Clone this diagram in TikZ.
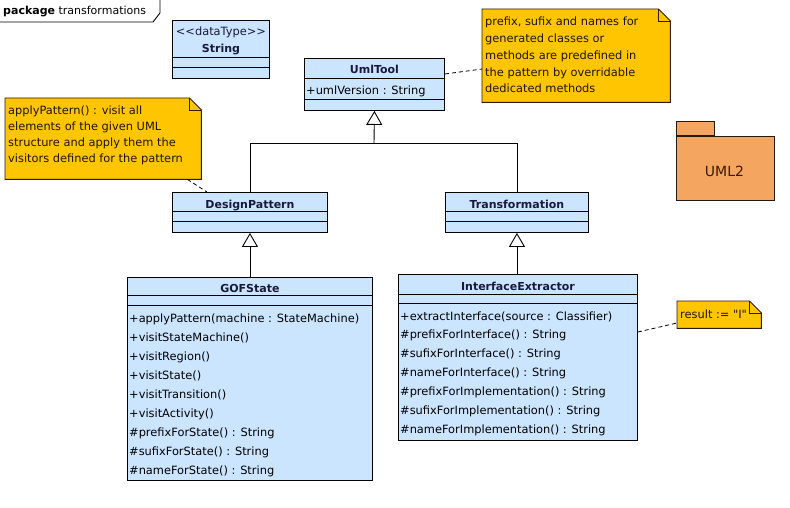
\documentclass[tikz,border=0pt]{standalone}
\usepackage{fontspec}
\setmainfont{DejaVu Sans}
% same face without the TeX character mapping, for literal quotes and angle brackets
\newfontfamily\rawfont{DejaVu Sans}
\usetikzlibrary{arrows.meta,calc}

\definecolor{classfill}{RGB}{204,229,255}
\definecolor{notefill}{RGB}{255,198,0}
\definecolor{pkgfill}{RGB}{244,166,96}
\definecolor{titlecol}{RGB}{25,25,60}
\definecolor{noteborder}{RGB}{50,25,0}
\definecolor{pkgtext}{RGB}{60,25,0}

% note outline with a folded top-right corner: #1 node name, #2 fold size
\newcommand\drawnote[2]{%
  \draw[noteshape] (#1.north west) -- ($(#1.north east)+(-#2,0)$) -- ($(#1.north east)+(0,#2)$)
    -- (#1.south east) -- (#1.south west) -- cycle;
  \draw[draw=noteborder, line width=0.6pt] ($(#1.north east)+(-#2,0)$) -- ($(#1.north east)+(-#2,#2)$)
    -- ($(#1.north east)+(0,#2)$);}

\begin{document}
\begin{tikzpicture}[x=1pt,y=-1pt,
  font=\fontsize{11.4}{13}\selectfont,
  classbox/.style={draw=black, fill=classfill, line width=0.9pt, inner sep=0, anchor=north west},
  compart/.style={line width=0.9pt},
  ctitle/.style={font=\fontsize{11}{13}\selectfont\bfseries, text=titlecol, inner sep=0, anchor=base},
  member/.style={inner sep=0, anchor=base west},
  notebox/.style={inner sep=0, anchor=north west},
  noteshape/.style={draw=noteborder, fill=notefill, line width=0.9pt},
  notetext/.style={inner sep=0, anchor=base west, text=black!85!brown},
  gen/.style={-{Triangle[open,length=14pt,width=16pt]}, line width=0.9pt},
  anchorline/.style={dash pattern=on 4pt off 3pt, line width=0.8pt},
  pkgbox/.style={draw=black!80!brown, fill=pkgfill, line width=0.9pt, inner sep=0}]

\useasboundingbox[fill=white] (0,0) rectangle (790,508);

% ---- package frame label
\draw[line width=0.9pt] (0,22) -- (153,22) -- (160,13) -- (160,0);
\node[member, font=\fontsize{11}{13}\selectfont] (pkglabel) at (3,15) {\textbf{package} transformations};

% ---- String datatype
\node[classbox, minimum width=97, minimum height=58] (str) at (172,20) {};
\draw[compart] ($(str.north west)+(0,37)$) -- ($(str.north east)+(0,37)$);
\draw[compart] ($(str.north west)+(0,47)$) -- ($(str.north east)+(0,47)$);
\node[inner sep=0, anchor=base, text=titlecol] (strst) at ($(str.north)+(0,16)$) {\rawfont <<dataType>>};
\node[ctitle] (strname) at ($(str.north)+(0,33)$) {String};

% ---- UmlTool
\node[classbox, minimum width=140, minimum height=52] (uml) at (304,58) {};
\draw[compart] ($(uml.north west)+(0,20)$) -- ($(uml.north east)+(0,20)$);
\draw[compart] ($(uml.north west)+(0,41)$) -- ($(uml.north east)+(0,41)$);
\node[ctitle] (umlname) at ($(uml.north)+(0,16)$) {UmlTool};
\node[member] (umlattr) at ($(uml.north west)+(2,37)$) {+umlVersion : String};

% ---- DesignPattern
\node[classbox, minimum width=155, minimum height=40] (dp) at (172,192) {};
\draw[compart] ($(dp.north west)+(0,19)$) -- ($(dp.north east)+(0,19)$);
\draw[compart] ($(dp.north west)+(0,29)$) -- ($(dp.north east)+(0,29)$);
\node[ctitle] (dpname) at ($(dp.north)+(0,16)$) {DesignPattern};

% ---- Transformation
\node[classbox, minimum width=143, minimum height=40] (tr) at (445,192) {};
\draw[compart] ($(tr.north west)+(0,19)$) -- ($(tr.north east)+(0,19)$);
\draw[compart] ($(tr.north west)+(0,29)$) -- ($(tr.north east)+(0,29)$);
\node[ctitle] (trname) at ($(tr.north)+(0,16)$) {Transformation};

% ---- GOFState
\node[classbox, minimum width=245, minimum height=203] (gof) at (127,277) {};
\draw[compart] ($(gof.north west)+(0,18)$) -- ($(gof.north east)+(0,18)$);
\draw[compart] ($(gof.north west)+(0,28)$) -- ($(gof.north east)+(0,28)$);
\node[ctitle] (gofname) at ($(gof.north)+(0,15)$) {GOFState};
\foreach \t [count=\i] in {+applyPattern(machine : StateMachine), +visitStateMachine(),
    +visitRegion(), +visitState(), +visitTransition(), +visitActivity(),
    \#prefixForState() : String, \#sufixForState() : String, \#nameForState() : String}
  \node[member] (gof-m\i) at (129,{322+19*(\i-1)}) {\t};

% ---- InterfaceExtractor
\node[classbox, minimum width=239, minimum height=166] (ie) at (398,274) {};
\draw[compart] ($(ie.north west)+(0,20)$) -- ($(ie.north east)+(0,20)$);
\draw[compart] ($(ie.north west)+(0,29)$) -- ($(ie.north east)+(0,29)$);
\node[ctitle] (iename) at ($(ie.north)+(0,16)$) {InterfaceExtractor};
\foreach \t [count=\i] in {+extractInterface(source : Classifier), \#prefixForInterface() : String,
    \#sufixForInterface() : String, \#nameForInterface() : String,
    \#prefixForImplementation() : String, \#sufixForImplementation() : String,
    \#nameForImplementation() : String}
  \node[member] (ie-m\i) at (400,{320+18.9*(\i-1)}) {\t};

% ---- UML2 package
\node[pkgbox, anchor=north west, minimum width=98, minimum height=64] (uml2) at (676,136) {};
\node[pkgbox, anchor=south west, minimum width=38, minimum height=14] (uml2tab) at (uml2.north west) {};
\node[inner sep=0, text=pkgtext, font=\fontsize{14}{16}\selectfont] (uml2name) at ($(uml2.center)+(-1,3)$) {UML2};

% ---- notes
\node[notebox, minimum width=188, minimum height=93] (n1) at (482,9) {};
\drawnote{n1}{12}
\foreach \t [count=\i] in {{prefix, sufix and names for}, generated classes or,
    methods are predefined in, the pattern by overridable, dedicated methods}
  \node[notetext] (n1-l\i) at (485,{26+16.75*(\i-1)}) {\t};

\node[notebox, minimum width=196, minimum height=81] (n2) at (5,98) {};
\drawnote{n2}{12}
\foreach \t [count=\i] in {applyPattern() : visit all, elements of the given UML,
    structure and apply them the, visitors defined for the pattern}
  \node[notetext] (n2-l\i) at (8,{115+16*(\i-1)}) {\t};

\node[notebox, minimum width=84, minimum height=27] (n3) at (677,301) {};
\drawnote{n3}{12}
\node[notetext] (n3-l1) at (680,318) {result := {\rawfont "}I{\rawfont "}};

% ---- generalizations
\coordinate (j) at (374,143);
\draw[line width=0.9pt] (dp.north) |- (j);
\draw[line width=0.9pt] (tr.north) |- (j);
\draw[gen] (j) -- (uml.south);
\draw[gen] (gof.north) -- (dp.south);
\draw[gen] (tr.south |- ie.north) -- (tr.south);

% ---- note anchors
\draw[anchorline] ($(uml.north east)+(0,16)$) -- ($(n1.north west)+(0,60)$);
\draw[anchorline] ($(n2.south east)+(-14,0)$) -- ($(dp.north west)+(35,0)$);
\draw[anchorline] ($(ie.north east)+(0,58)$) -- ($(n3.north west)+(0,22)$);
\end{tikzpicture}
\end{document}
